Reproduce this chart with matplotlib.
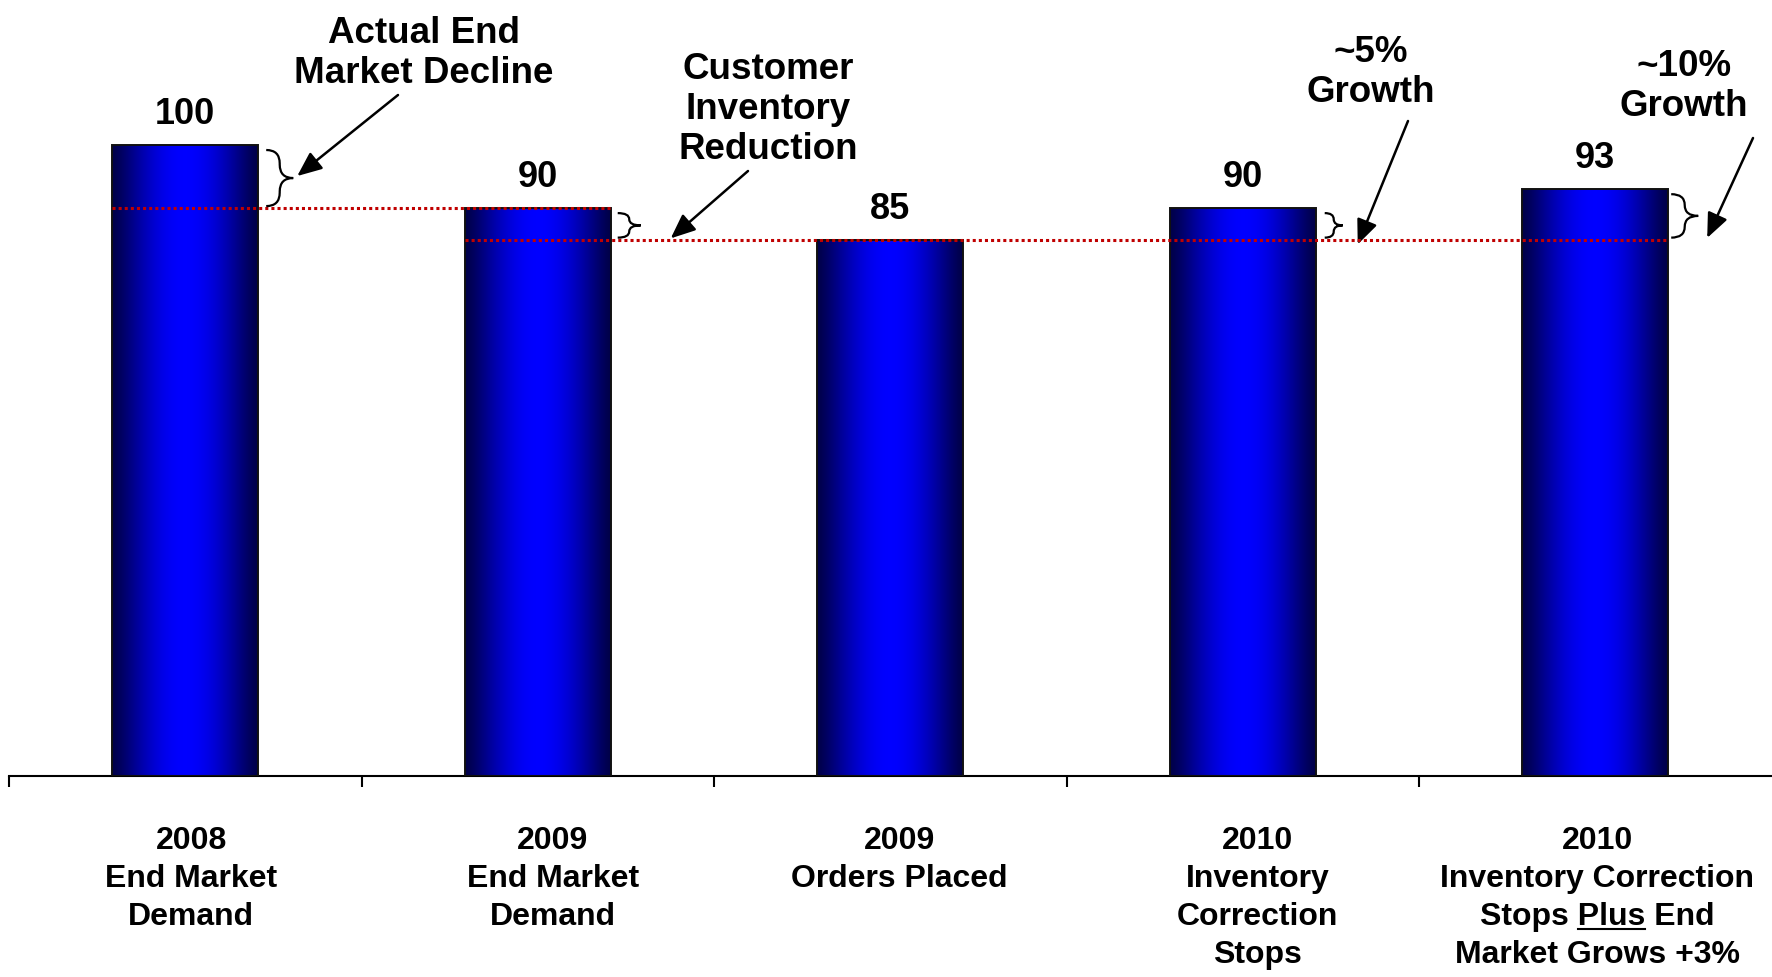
import numpy as np
import matplotlib
matplotlib.use("Agg")
import matplotlib.pyplot as plt
from matplotlib.colors import LinearSegmentedColormap
from matplotlib.font_manager import FontProperties
from matplotlib.lines import Line2D
from matplotlib.patches import PathPatch
from matplotlib.path import Path

categories = [
    ["2008", "End Market", "Demand"],
    ["2009", "End Market", "Demand"],
    ["2009", "Orders Placed"],
    ["2010", "Inventory", "Correction", "Stops"],
    ["2010", "Inventory Correction", "Stops Plus End", "Market Grows +3%"],
]
values = [100, 90, 85, 90, 93]
value_labels = ["100", "90", "85", "90", "93"]

# dotted guide lines: (from bar, to bar, level)
guides = [(0, 1, values[1]), (1, 4, values[2])]
# braces: (bar, upper level, lower level)
braces = [(0, values[0], values[1]), (1, values[1], values[2]),
          (3, values[3], values[2]), (4, values[4], values[2])]

callout_texts = [
    ["Actual End", "Market Decline"],
    ["Customer", "Inventory", "Reduction"],
    ["~5%", "Growth"],
    ["~10%", "Growth"],
]

W, H, DPI = 1772, 977, 100
AX_LEFT, AX_BASE, CAT_PX = 9, 776, 352.5
PY = 6.31          # pixels per unit on y
BAR_W = 0.414
FONT = "Liberation Sans"

# callout layout in pixels: text centre x, first baseline y, arrow tail, head shift from brace tip
callout_x = [424, 768, 1371, 1684]
callout_y = [43, 79, 62, 76]
callout_tail = [(398, 95), (748, 171), (1408, 121), (1753, 138)]
callout_head = [(4, -2), (30, 13), (15, 19), (9, 22)]
# brace gap from bar edge and width, pixels
brace_gap = [8, 7, 9, 3]
brace_w = [27, 23, 18, 27]

plt.rcParams["font.family"] = [FONT, "DejaVu Sans"]
fig = plt.figure(figsize=(W / DPI, H / DPI), dpi=DPI)
ax = fig.add_axes([AX_LEFT / W, (H - AX_BASE) / H, CAT_PX * 5 / W, AX_BASE / H])
ax.set_xlim(-0.5, 4.5)
ax.set_ylim(0, AX_BASE / PY)
PX = CAT_PX

# bars with a horizontal blue shading
x = np.arange(len(values))
bars = ax.bar(x, values, width=BAR_W, facecolor="none", edgecolor="#111111",
              linewidth=1.4, zorder=3)
shade = LinearSegmentedColormap.from_list("shade", ["#000048", "#0000ff"])
t = np.linspace(0, 1, 256)
grad = (np.sin(np.pi * t) ** 1.2)[None, :]
for b in bars:
    ax.imshow(grad, cmap=shade, vmin=0, vmax=1, aspect="auto", zorder=2,
              extent=[b.get_x(), b.get_x() + b.get_width(), 0, b.get_height()],
              interpolation="bicubic")

for i, b in enumerate(bars):
    ax.annotate(value_labels[i], xy=(b.get_x() + b.get_width() / 2, b.get_height()),
                xytext=(0, 15), textcoords="offset points", ha="center",
                va="baseline", fontsize=26, fontweight="bold")

# red dotted guides
for a, c, lvl in guides:
    ax.plot([a - BAR_W / 2, c + BAR_W / 2], [lvl, lvl], color="#c00000",
            linestyle=(0, (1, 1)), linewidth=2.2, zorder=4)


def brace(ax, x0, top, bot, w_px):
    """right curly brace between two levels, built in pixels"""
    h = (top - bot) * PY
    m = h / 2
    w = w_px
    r = min(w / 2, h / 4)
    pts = [(0, h), (w / 2, h), (w / 2, h - r), (w / 2, m + r),
           (w / 2, m), (w, m), (w / 2, m), (w / 2, m - r),
           (w / 2, r), (w / 2, 0), (0, 0)]
    codes = [Path.MOVETO, Path.CURVE3, Path.CURVE3, Path.LINETO,
             Path.CURVE3, Path.CURVE3, Path.CURVE3, Path.CURVE3,
             Path.LINETO, Path.CURVE3, Path.CURVE3]
    verts = [(x0 + px / PX, bot + py / PY) for px, py in pts]
    ax.add_patch(PathPatch(Path(verts, codes), fill=False, lw=1.6,
                           edgecolor="black", zorder=5, clip_on=False))
    return x0 + w / PX, bot + m / PY


tips = []
for k, (i, top, bot) in enumerate(braces):
    x0 = i + BAR_W / 2 + brace_gap[k] / PX
    tips.append(brace(ax, x0, top - 5 / PY, bot + 2 / PY, brace_w[k]))

for k, lines in enumerate(callout_texts):
    for j, s in enumerate(lines):
        fig.text(callout_x[k] / W, 1 - (callout_y[k] + j * 40) / H, s,
                 ha="center", va="baseline", fontsize=26.5, fontweight="bold")
    tx, ty = tips[k]
    dx, dy = callout_head[k]
    ax.annotate("", xy=(tx + dx / PX, ty - dy / PY), xycoords="data",
                xytext=(callout_tail[k][0], H - callout_tail[k][1]),
                textcoords="figure pixels",
                arrowprops=dict(arrowstyle="-|>,head_length=0.75,head_width=0.32",
                                mutation_scale=20, lw=1.8, color="black",
                                shrinkA=0, shrinkB=0))

# axis: only the baseline with ticks between categories
for side in ["left", "right", "top"]:
    ax.spines[side].set_visible(False)
ax.spines["bottom"].set_linewidth(1.5)
ax.set_yticks([])
ax.set_xticks(np.arange(-0.5, 4.5, 1.0))
ax.set_xticklabels([])
ax.tick_params(axis="x", direction="out", length=8, width=1.5)

# category labels, one line at a time
LAB_SIZE, LAB_Y0, LAB_STEP = 23, 73, 38
lab_dx = [6, 15, 9, 15, 2]
for i, lines in enumerate(categories):
    for j, s in enumerate(lines):
        ax.annotate(s, xy=(i, 0), xycoords=("data", "axes fraction"),
                    xytext=(lab_dx[i] * 0.72, -(LAB_Y0 + j * LAB_STEP) * 0.72),
                    textcoords="offset points", ha="center", va="baseline",
                    fontsize=LAB_SIZE, fontweight="bold", annotation_clip=False)

# underline "Plus" in the last label
renderer = fig.canvas.get_renderer()
fp = FontProperties(family=FONT, weight="bold", size=LAB_SIZE)


def width(s):
    return renderer.get_text_width_height_descent(s, fp, ismath=False)[0]


line = categories[4][2]
cx = ax.transData.transform((4, 0))[0] + lab_dx[4]
left = cx - width(line) / 2
u1 = left + width("Stops Plus")
u0 = u1 - width("Plus")
uy = ax.transAxes.transform((0, 0))[1] - (LAB_Y0 + 2 * LAB_STEP) - 4
inv = fig.transFigure.inverted()
(fx0, fy), (fx1, _) = inv.transform([(u0, uy), (u1, uy)])
fig.add_artist(Line2D([fx0, fx1], [fy, fy], color="black", lw=1.5))

fig.savefig("out.png", dpi=DPI, facecolor="white")
